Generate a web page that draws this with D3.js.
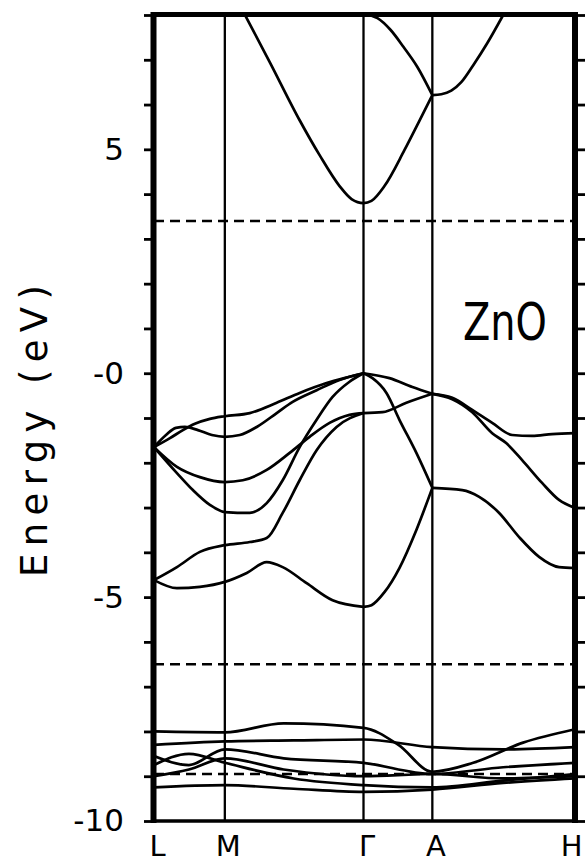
<!DOCTYPE html>
<html>
<head>
<meta charset="utf-8">
<script src="https://cdn.jsdelivr.net/npm/d3@7"></script>
<style>
  html, body { margin: 0; padding: 0; background: #fff; }
  svg { display: block; }
  text { font-family: "DejaVu Sans", "Liberation Sans", sans-serif; fill: #000; }
</style>
</head>
<body>
<svg id="chart" width="585" height="862"></svg>
<script>
// High-symmetry points of the wurtzite Brillouin zone along the path
const kLabels = ["L", "M", "Γ", "A", "H"];
const kPoints = [0, 0.71, 2.10, 2.79, 4.22];

// Energy axis (eV)
const energyDomain = [-10, 8];
const energyTicks = d3.range(-10, 9);
const labelledTicks = [5, 0, -5, -10];
const tickLabels = ["5", "-0", "-5", "-10"];

// Horizontal reference levels (eV)
const referenceLevels = [3.4, -6.5, -8.95];

// Conduction bands: [k, E]
const cb1 = [[0.86, 8.22], [1.16, 6.95], [1.46, 5.65], [1.66, 4.87], [1.86, 4.18], [1.98, 3.89], [2.10, 3.80],
             [2.18, 3.85], [2.31, 4.18], [2.51, 4.98], [2.65, 5.59], [2.79, 6.21]];
const cb2 = [[2.10, 8.02], [2.24, 7.93], [2.37, 7.67], [2.50, 7.29], [2.64, 6.84], [2.79, 6.21]];
const cb3 = [[2.79, 6.21], [2.88, 6.23], [2.98, 6.31], [3.08, 6.50], [3.20, 6.88], [3.34, 7.37], [3.50, 8.00], [3.58, 8.33]];

// O 2p valence bands, L -> M -> Γ
const vbA = [[0, -1.65], [0.16, -1.45], [0.29, -1.27], [0.41, -1.13], [0.56, -1.02], [0.71, -0.96],
             [0.96, -0.89], [1.23, -0.66], [1.46, -0.44], [1.73, -0.22], [1.96, -0.08], [2.10, 0]];
const vbB = [[0, -1.65], [0.12, -1.38], [0.22, -1.22], [0.31, -1.20], [0.44, -1.27], [0.58, -1.38], [0.71, -1.42],
             [0.86, -1.38], [1.03, -1.20], [1.23, -0.89], [1.39, -0.64], [1.63, -0.38], [1.86, -0.15], [2.10, 0]];
const vbC = [[0, -1.65], [0.23, -2.09], [0.46, -2.32], [0.71, -2.43], [0.89, -2.39], [1.13, -2.16],
             [1.36, -1.78], [1.56, -1.42], [1.76, -1.11], [1.96, -0.93], [2.10, -0.89]];
const vbD = [[0, -1.65], [0.23, -2.23], [0.39, -2.61], [0.56, -2.94], [0.71, -3.10], [0.96, -3.12], [1.13, -2.90],
             [1.29, -2.39], [1.46, -1.65], [1.63, -1.04], [1.79, -0.53], [1.96, -0.19], [2.10, 0]];
const vbE = [[0, -4.62], [0.23, -4.33], [0.46, -3.99], [0.71, -3.84], [0.96, -3.77], [1.13, -3.68],
             [1.29, -3.12], [1.46, -2.39], [1.63, -1.72], [1.83, -1.20], [2.10, -0.89]];
const vbF = [[0, -4.62], [0.23, -4.80], [0.46, -4.77], [0.71, -4.66], [0.93, -4.46], [1.13, -4.22],
             [1.29, -4.33], [1.53, -4.69], [1.79, -5.07], [2.10, -5.22]];

// Valence bands, Γ -> A
const vbG1 = [[2.10, 0], [2.36, -0.11], [2.59, -0.31], [2.79, -0.46]];
const vbG2 = [[2.10, 0], [2.19, -0.11], [2.33, -0.44], [2.46, -1.04], [2.63, -1.78], [2.79, -2.56]];
const vbG3 = [[2.10, -0.89], [2.29, -0.87], [2.53, -0.66], [2.79, -0.46]];
const vbG4 = [[2.10, -5.22], [2.18, -5.18], [2.31, -4.89], [2.46, -4.35], [2.63, -3.50], [2.79, -2.56]];

// Valence bands, A -> H
const vbH1 = [[2.79, -0.46], [2.99, -0.55], [3.19, -0.82], [3.39, -1.11], [3.59, -1.38], [3.79, -1.40], [3.99, -1.36], [4.22, -1.34]];
const vbH2 = [[2.79, -0.46], [2.99, -0.58], [3.19, -0.87], [3.39, -1.34], [3.53, -1.56], [3.69, -1.94],
              [3.89, -2.45], [4.06, -2.83], [4.22, -3.01]];
const vbH3 = [[2.79, -2.56], [3.09, -2.61], [3.26, -2.76], [3.46, -3.12], [3.66, -3.66], [3.86, -4.10], [4.06, -4.33], [4.22, -4.35]];

// Zn 3d bands
const dBand1 = [[0, -8.00], [0.71, -8.02], [1.30, -7.82], [2.10, -7.92], [2.45, -8.30], [2.79, -8.90], [3.20, -8.70], [3.70, -8.25], [4.22, -7.95]];
const dBand2 = [[0, -8.30], [0.71, -8.22], [1.40, -8.20], [2.10, -8.18], [2.79, -8.35], [3.50, -8.40], [4.22, -8.35]];
const dBand3 = [[0, -8.55], [0.35, -8.75], [0.71, -8.40], [1.30, -8.60], [2.10, -8.70], [2.79, -8.95], [3.50, -8.80], [4.22, -8.70]];
const dBand4 = [[0, -8.75], [0.35, -8.50], [0.71, -8.70], [1.40, -9.05], [2.10, -9.20], [2.79, -9.25], [3.50, -9.10], [4.22, -8.95]];
const dBand5 = [[0, -9.00], [0.35, -8.85], [0.71, -8.60], [1.30, -8.85], [2.10, -9.00], [2.79, -8.95], [3.50, -9.05], [4.22, -9.00]];
const dBand6 = [[0, -9.25], [0.71, -9.20], [1.40, -9.28], [2.10, -9.35], [2.79, -9.30], [3.50, -9.15], [4.22, -9.05]];

const bands = [cb1, cb2, cb3, vbA, vbB, vbC, vbD, vbE, vbF, vbG1, vbG2, vbG3, vbG4, vbH1, vbH2, vbH3,
               dBand1, dBand2, dBand3, dBand4, dBand5, dBand6];

// ---- layout ----
const svg = d3.select("#chart");
const frame = { left: 154, right: 575, top: 15, bottom: 821 };

const x = d3.scaleLinear().domain([kPoints[0], kPoints[kPoints.length - 1]]).range([frame.left, frame.right]);
const y = d3.scaleLinear().domain(energyDomain).range([frame.bottom, frame.top]);

svg.append("rect").attr("width", 585).attr("height", 862).attr("fill", "#fff");

svg.append("clipPath").attr("id", "plot-clip")
  .append("rect")
  .attr("x", frame.left).attr("y", frame.top)
  .attr("width", frame.right - frame.left).attr("height", frame.bottom - frame.top);

const plot = svg.append("g").attr("clip-path", "url(#plot-clip)");

// dashed reference levels
plot.selectAll("line.ref")
  .data(referenceLevels)
  .join("line")
  .attr("class", "ref")
  .attr("x1", frame.left).attr("x2", frame.right)
  .attr("y1", d => y(d)).attr("y2", d => y(d))
  .attr("stroke", "#000").attr("stroke-width", 2.4)
  .attr("stroke-dasharray", "10,6");

// band curves
const line = d3.line()
  .x(d => x(d[0]))
  .y(d => y(d[1]))
  .curve(d3.curveMonotoneX);

plot.selectAll("path.band")
  .data(bands)
  .join("path")
  .attr("class", "band")
  .attr("d", line)
  .attr("fill", "none")
  .attr("stroke", "#000")
  .attr("stroke-width", 2.7)
  .attr("stroke-linejoin", "round");

// vertical lines at interior symmetry points
svg.selectAll("line.sym")
  .data(kPoints.slice(1, -1))
  .join("line")
  .attr("class", "sym")
  .attr("x1", d => x(d)).attr("x2", d => x(d))
  .attr("y1", frame.top).attr("y2", frame.bottom)
  .attr("stroke", "#000").attr("stroke-width", 2.3);

// left energy axis
const yAxisLeft = d3.axisLeft(y)
  .tickValues(energyTicks)
  .tickSize(8)
  .tickPadding(20)
  .tickFormat(d => {
    const i = labelledTicks.indexOf(d);
    return i >= 0 ? tickLabels[i] : "";
  });

const gLeft = svg.append("g")
  .attr("transform", `translate(${frame.left - 2},0)`)
  .call(yAxisLeft);
gLeft.select(".domain").remove();
gLeft.selectAll(".tick line").attr("stroke", "#000").attr("stroke-width", 2.8);
gLeft.selectAll(".tick text")
  .attr("font-size", 31)
  .attr("font-family", "DejaVu Sans, sans-serif")
  .attr("fill", "#000");

// right energy axis (ticks only)
const yAxisRight = d3.axisRight(y).tickValues(energyTicks).tickSize(10).tickFormat("");
const gRight = svg.append("g")
  .attr("transform", `translate(${frame.right + 2},0)`)
  .call(yAxisRight);
gRight.select(".domain").remove();
gRight.selectAll(".tick line").attr("stroke", "#000").attr("stroke-width", 2.8);

// k-path labels
const xAxis = d3.axisBottom(x)
  .tickValues(kPoints)
  .tickSize(0)
  .tickPadding(14)
  .tickFormat((d, i) => kLabels[i]);
const gBottom = svg.append("g")
  .attr("transform", `translate(3,${frame.bottom})`)
  .call(xAxis);
gBottom.select(".domain").remove();
gBottom.selectAll(".tick text")
  .attr("font-size", 29)
  .attr("font-family", "DejaVu Sans, sans-serif")
  .attr("fill", "#000");
// the last label sits against the page edge
gBottom.selectAll(".tick text")
  .filter((d, i) => i === kPoints.length - 1)
  .attr("text-anchor", "end")
  .attr("dx", 4);

// frame
svg.append("line").attr("x1", frame.left - 0.5).attr("x2", frame.left - 0.5)
  .attr("y1", frame.top - 3).attr("y2", frame.bottom + 2)
  .attr("stroke", "#000").attr("stroke-width", 6);
svg.append("line").attr("x1", frame.right).attr("x2", frame.right)
  .attr("y1", frame.top - 3).attr("y2", frame.bottom + 2)
  .attr("stroke", "#000").attr("stroke-width", 6);
svg.append("line").attr("x1", frame.left - 3).attr("x2", frame.right + 3)
  .attr("y1", frame.top - 0.5).attr("y2", frame.top - 0.5)
  .attr("stroke", "#000").attr("stroke-width", 5);
svg.append("line").attr("x1", frame.left - 3).attr("x2", frame.right + 3)
  .attr("y1", frame.bottom).attr("y2", frame.bottom)
  .attr("stroke", "#000").attr("stroke-width", 3.5);

// material label
svg.append("text")
  .attr("x", 463).attr("y", 340)
  .attr("font-size", 52)
  .attr("textLength", 84)
  .attr("lengthAdjust", "spacingAndGlyphs")
  .text("ZnO");

// axis title
svg.append("text")
  .attr("transform", "translate(47,431) rotate(-90)")
  .attr("text-anchor", "middle")
  .attr("font-size", 37)
  .attr("textLength", 292)
  .attr("lengthAdjust", "spacing")
  .text("Energy (eV)");
</script>
</body>
</html>
